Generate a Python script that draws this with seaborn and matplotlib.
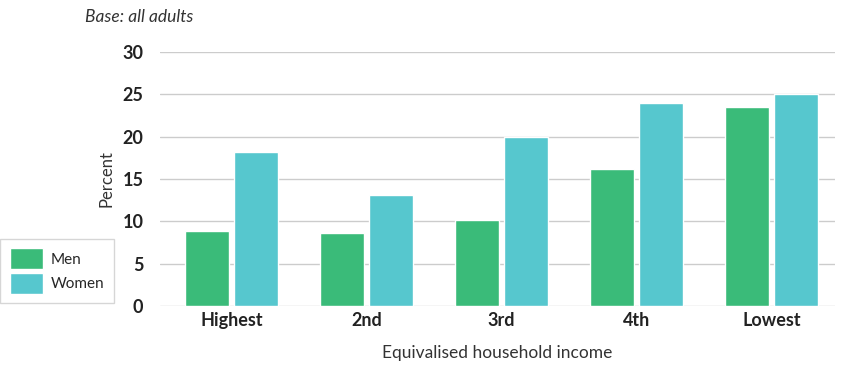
import pandas as pd
import matplotlib.pyplot as plt
import seaborn as sns

# ----------------------------
# Data
# ----------------------------
income_groups = ["Highest", "2nd", "3rd", "4th", "Lowest"]
men = [8.9, 8.6, 10.2, 16.2, 23.5]
women = [18.2, 13.1, 20.0, 24.0, 25.0]

df = pd.DataFrame({
    "income": income_groups * 2,
    "sex": ["Men"] * len(men) + ["Women"] * len(women),
    "percent": men + women,
})

# ----------------------------
# Style
# ----------------------------
sns.set_style("white")
plt.rcParams["font.family"] = ["Lato", "DejaVu Sans"]
palette = {"Men": "#3abb79", "Women": "#56c7ce"}

fig = plt.figure(figsize=(8.5, 3.7), dpi=100)
ax = fig.add_axes([160 / 850, 1 - 306 / 370, 675 / 850, 254 / 370])

sns.barplot(data=df, x="income", y="percent", hue="sex", order=income_groups,
            hue_order=["Men", "Women"], palette=palette, width=0.72, gap=0.1,
            saturation=1, ax=ax, zorder=3)

ax.set_ylim(0, 30)
ax.set_yticks(range(0, 31, 5))
ax.set_xlim(-0.53, 4.47)
ax.grid(axis="y", color="#cccccc", linewidth=1, zorder=0)
for s in ax.spines.values():
    s.set_visible(False)
ax.tick_params(axis="both", length=0)
ax.tick_params(axis="y", pad=12, labelsize=13, labelcolor="#222222")
ax.tick_params(axis="x", pad=4, labelsize=13, labelcolor="#222222")
for lbl in ax.get_xticklabels():
    lbl.set_fontweight("bold")
for lbl in ax.get_yticklabels():
    lbl.set_fontweight("bold")

ax.set_xlabel("Equivalised household income", fontsize=12.5, color="#333333", labelpad=12)
ax.set_ylabel("Percent", fontsize=12, color="#333333", labelpad=6)

fig.text(85 / 850, 1 - 17 / 370, "Base: all adults", fontsize=12.5, style="italic",
         color="#333333", va="center")

handles, labels = ax.get_legend_handles_labels()
ax.legend(handles, labels, loc="center", bbox_to_anchor=(57 / 850, 1 - 271 / 370),
          bbox_transform=fig.transFigure, frameon=True, fontsize=11,
          handlelength=2.2, handleheight=1.7, borderpad=0.6, labelspacing=0.25,
          handletextpad=0.5, fancybox=False, edgecolor="#cccccc")

fig.savefig("out.png", dpi=100)
